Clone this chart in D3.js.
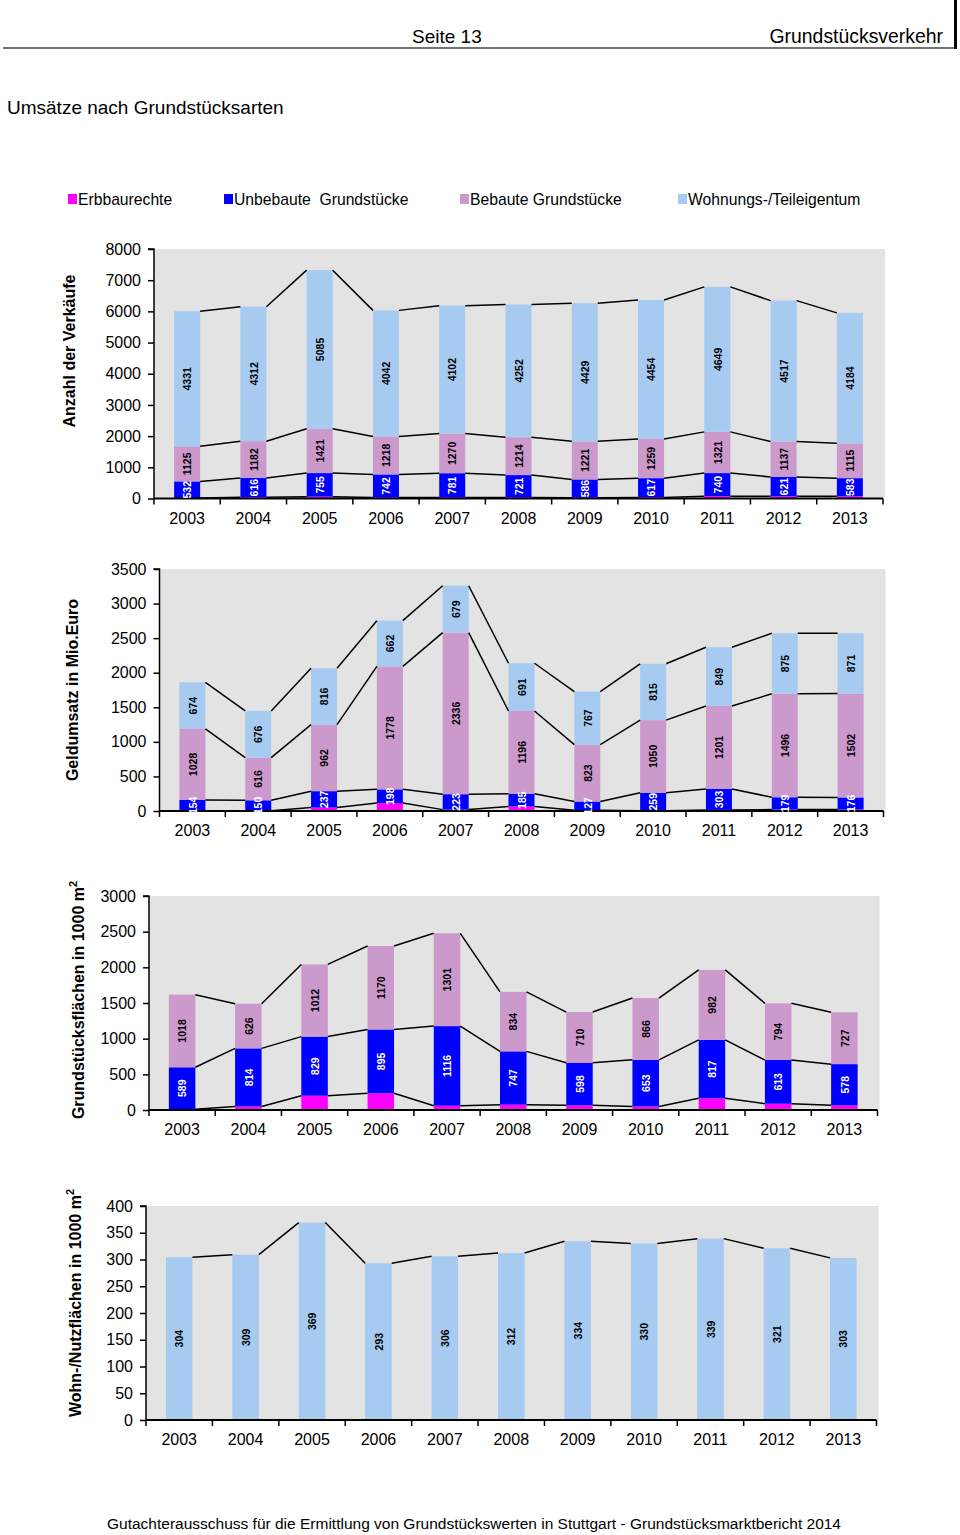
<!DOCTYPE html>
<html><head><meta charset="utf-8">
<script src="https://cdn.jsdelivr.net/npm/d3@7"></script>
<style>
body{margin:0;background:#fff;}
svg text{font-family:"Liberation Sans",Arial,sans-serif;}
</style></head>
<body><svg id="c" width="960" height="1535"></svg>
<script>
const years = ["2003","2004","2005","2006","2007","2008","2009","2010","2011","2012","2013"];
const legendLabels = ["Erbbaurechte","Unbebaute  Grundstücke","Bebaute Grundstücke","Wohnungs-/Teileigentum"];
const colors = ["#ff00ff","#0000ff","#cc99cc","#a6caf0"];

// Anzahl der Verkäufe
const verkErbbau   = [15,40,60,30,30,30,25,35,75,70,70];
const verkUnbebaut = [532,616,755,742,781,721,586,617,740,621,583];
const verkBebaut   = [1125,1182,1421,1218,1270,1214,1221,1259,1321,1137,1115];
const verkWohnung  = [4331,4312,5085,4042,4102,4252,4429,4454,4649,4517,4184];
const verkTicks = [0,1000,2000,3000,4000,5000,6000,7000,8000];

// Geldumsatz in Mio. Euro
const umsErbbau   = [5,5,50,115,20,65,10,5,15,20,20];
const umsUnbebaut = [154,150,237,198,223,185,127,259,303,179,176];
const umsBebaut   = [1028,616,962,1778,2336,1196,823,1050,1201,1496,1502];
const umsWohnung  = [674,676,816,662,679,691,767,815,849,875,871];
const umsTicks = [0,500,1000,1500,2000,2500,3000,3500];

// Grundstücksflächen in 1000 m²
const flErbbau   = [10,50,200,234,60,75,65,50,165,88,65];
const flUnbebaut = [589,814,829,895,1116,747,598,653,817,613,578];
const flBebaut   = [1018,626,1012,1170,1301,834,710,866,982,794,727];
const flTicks = [0,500,1000,1500,2000,2500,3000];

// Wohn-/Nutzflächen in 1000 m²
const wnFlaeche = [304,309,369,293,306,312,334,330,339,321,303];
const wnTicks = [0,50,100,150,200,250,300,350,400];

const svg = d3.select("#c");

// Header
svg.append("text").attr("x",412).attr("y",43).attr("font-size",19).text("Seite 13");
svg.append("text").attr("x",943).attr("y",43).attr("font-size",19.4).attr("text-anchor","end").text("Grundstücksverkehr");
svg.append("line").attr("x1",3).attr("x2",955).attr("y1",48).attr("y2",48).attr("stroke","#444").attr("stroke-width",1.5);
svg.append("line").attr("x1",955.5).attr("x2",955.5).attr("y1",0).attr("y2",49).attr("stroke","#000").attr("stroke-width",3);
svg.append("text").attr("x",7).attr("y",114).attr("font-size",19).text("Umsätze nach Grundstücksarten");

// Legend
const legX = [68,224,460,678];
legendLabels.forEach((l,i)=>{
  svg.append("rect").attr("x",legX[i]).attr("y",194).attr("width",9).attr("height",10).attr("fill",colors[i]);
  svg.append("text").attr("x",legX[i]+10).attr("y",205).attr("font-size",15.7).attr("xml:space","preserve").style("white-space","pre").text(l);
});

// Footer
svg.append("text").attr("x",474).attr("y",1529).attr("font-size",15.5).attr("text-anchor","middle")
  .text("Gutachterausschuss für die Ermittlung von Grundstückswerten in Stuttgart - Grundstücksmarktbericht 2014");

function drawChart(cfg){
  const g = svg.append("g");
  const x = d3.scaleBand().domain(years).range([cfg.left,cfg.right]).paddingInner(0.6).paddingOuter(0.3);
  const step = (cfg.right-cfg.left)/years.length;
  const y = d3.scaleLinear().domain([0,cfg.max]).range([cfg.bottom,cfg.top]);
  g.append("rect").attr("x",cfg.left).attr("y",cfg.top).attr("width",cfg.right-cfg.left+2).attr("height",cfg.bottom-cfg.top).attr("fill","#e3e3e3");
  const bw = cfg.barW;
  const cx = i => cfg.left + step*(i+0.5);
  const cum = years.map((_,i)=>{ let s=0; return cfg.series.map(se=>{ const b=s; s+=se.vals[i]; return [b,s]; }); });
  cfg.series.forEach((se,k)=>{
    g.selectAll(null).data(years).enter().append("rect")
      .attr("x",(d,i)=>cx(i)-bw/2).attr("width",bw)
      .attr("y",(d,i)=>y(cum[i][k][1])).attr("height",(d,i)=>y(cum[i][k][0])-y(cum[i][k][1]))
      .attr("fill",se.color);
  });
  // connecting lines
  cfg.series.forEach((se,k)=>{
    for(let i=0;i<years.length-1;i++){
      g.append("line").attr("x1",cx(i)+bw/2).attr("x2",cx(i+1)-bw/2)
        .attr("y1",y(cum[i][k][1])).attr("y2",y(cum[i+1][k][1]))
        .attr("stroke","#000").attr("stroke-width",1.5);
    }
  });
  // axes
  const yAxis = d3.axisLeft(y).tickValues(cfg.ticks).tickSize(6).tickPadding(7).tickFormat(d3.format("d"));
  const ya = g.append("g").attr("transform",`translate(${cfg.left},0)`).call(yAxis);
  ya.select(".domain").attr("stroke-width",1.5).attr("d",`M-6,${cfg.top}H0V${cfg.bottom}`);
  ya.selectAll(".tick line").attr("stroke-width",1.5);
  ya.selectAll("text").attr("font-size",16).attr("fill","#000").attr("font-family","Liberation Sans, Arial, sans-serif");
  const xAxis = d3.axisBottom(x).tickSize(0).tickPadding(14);
  const xa = g.append("g").attr("transform",`translate(0,${cfg.bottom})`).call(xAxis);
  xa.select(".domain").attr("stroke-width",2).attr("d",`M${cfg.left},0H${cfg.right}`);
  xa.selectAll("text").attr("font-size",16).attr("fill","#000").attr("font-family","Liberation Sans, Arial, sans-serif");
  for(let i=0;i<=years.length;i++){
    g.append("line").attr("x1",cfg.left+step*i).attr("x2",cfg.left+step*i).attr("y1",cfg.bottom).attr("y2",cfg.bottom+6)
      .attr("stroke","#000").attr("stroke-width",1.5);
  }
  // labels (on top)
  cfg.series.forEach((se,k)=>{
    if(!se.label) return;
    years.forEach((d,i)=>{
      const ym = y((cum[i][k][0]+cum[i][k][1])/2);
      g.append("text").attr("transform",`translate(${cx(i)+0.5},${ym}) rotate(-90)`)
        .attr("text-anchor","middle").attr("dy","0.35em").attr("font-size",10.5).attr("font-weight","bold")
        .attr("fill",se.labelColor).text(se.vals[i]);
    });
  });
  // title
  const t = g.append("text").attr("transform",`translate(${cfg.titleX},${cfg.titleY}) rotate(-90)`)
    .attr("text-anchor","middle").attr("font-size",16).attr("font-weight","bold");
  t.append("tspan").text(cfg.title);
  if(cfg.sup){ t.append("tspan").attr("dy",-7).attr("font-size",11).text(cfg.sup); }
}

drawChart({left:154,right:883,top:249,bottom:498.5,max:8000,ticks:verkTicks,barW:26,
  title:"Anzahl der Verkäufe",titleX:75,titleY:351,
  series:[{vals:verkErbbau,color:colors[0]},{vals:verkUnbebaut,color:colors[1],label:true,labelColor:"#fff"},
          {vals:verkBebaut,color:colors[2],label:true,labelColor:"#000"},{vals:verkWohnung,color:colors[3],label:true,labelColor:"#000"}]});

drawChart({left:159.5,right:883.5,top:569,bottom:811,max:3500,ticks:umsTicks,barW:26,
  title:"Geldumsatz in Mio.Euro",titleX:78,titleY:690,
  series:[{vals:umsErbbau,color:colors[0]},{vals:umsUnbebaut,color:colors[1],label:true,labelColor:"#fff"},
          {vals:umsBebaut,color:colors[2],label:true,labelColor:"#000"},{vals:umsWohnung,color:colors[3],label:true,labelColor:"#000"}]});

drawChart({left:149,right:877.5,top:896,bottom:1110,max:3000,ticks:flTicks,barW:26.5,
  title:"Grundstücksflächen in 1000 m",sup:"2",titleX:84,titleY:1000,
  series:[{vals:flErbbau,color:colors[0]},{vals:flUnbebaut,color:colors[1],label:true,labelColor:"#fff"},
          {vals:flBebaut,color:colors[2],label:true,labelColor:"#000"}]});

drawChart({left:146,right:876.5,top:1206,bottom:1420,max:400,ticks:wnTicks,barW:26.5,
  title:"Wohn-/Nutzflächen in 1000 m",sup:"2",titleX:81,titleY:1303,
  series:[{vals:wnFlaeche,color:colors[3],label:true,labelColor:"#000"}]});
</script></body></html>
